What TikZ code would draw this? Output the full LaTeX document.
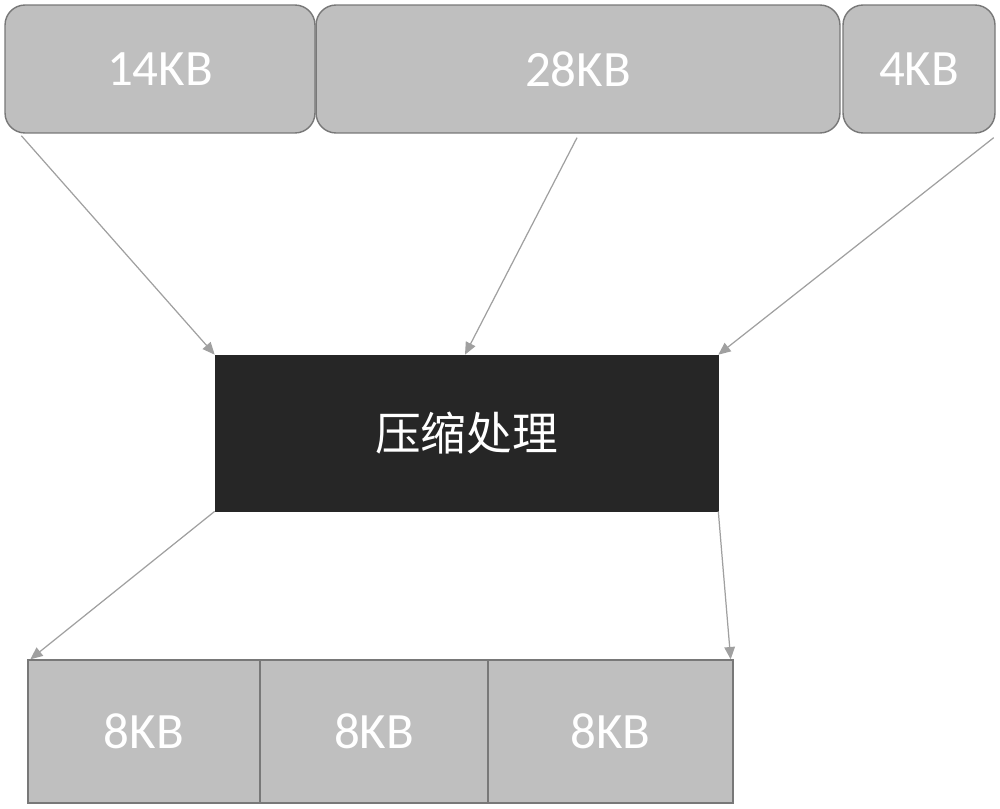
\documentclass[tikz,border=0pt]{standalone}
\usepackage{fontspec}
\setmainfont{Carlito}
\newfontfamily\cjk{Noto Sans CJK SC}
\usetikzlibrary{arrows.meta}
\definecolor{boxgray}{RGB}{191,191,191}
\definecolor{edgegray}{RGB}{120,120,120}
\definecolor{darkbox}{RGB}{38,38,38}
\definecolor{arrgray}{RGB}{160,160,160}
\begin{document}
\begin{tikzpicture}[
    x=0.02cm, y=-0.02cm,
    block/.style={draw=edgegray, line width=0.8pt, fill=boxgray, text=white,
        minimum height=2.56cm, inner sep=0pt, rounded corners=0.4cm,
        font=\fontsize{29}{34}\selectfont},
    part/.style={block, rounded corners=0pt, minimum height=2.86cm},
    arr/.style={draw=arrgray, line width=0.7pt,
        -{Triangle[length=7pt,width=6pt]}}
]
\useasboundingbox (0,0) rectangle (1000,808);

% original pieces
\node[block, minimum width=6.2cm] (n14) at (160,69) {14KB};
\node[block, minimum width=10.48cm] (n28) at (578,69) {28KB};
\node[block, minimum width=3.04cm] (n4) at (919,69) {4KB};

% processing step
\node[draw=darkbox, fill=darkbox, text=white, inner sep=0pt,
    minimum width=10.06cm, minimum height=3.12cm,
    font=\cjk\fontsize{26}{30}\selectfont] (proc) at (466.5,433) {压缩处理};

% compressed pieces
\node[part, minimum width=4.64cm] (b1) at (144,731.5) {8KB};
\node[part, minimum width=4.56cm] (b2) at (374,731.5) {8KB};
\node[part, minimum width=4.9cm] (b3) at (610.5,731.5) {8KB};

\draw[arr] ([xshift=0.34cm,yshift=-0.04cm]n14.south west) -- (proc.north west);
\draw[arr] ([xshift=-0.02cm,yshift=-0.08cm]n28.south) -- ([xshift=-0.03cm]proc.north);
\draw[arr] ([xshift=-0.04cm,yshift=-0.08cm]n4.south east) -- (proc.north east);
\draw[arr] (proc.south west) -- ([xshift=0.06cm]b1.north west);
\draw[arr] (proc.south east) -- ([xshift=-0.06cm]b3.north east);
\end{tikzpicture}
\end{document}
